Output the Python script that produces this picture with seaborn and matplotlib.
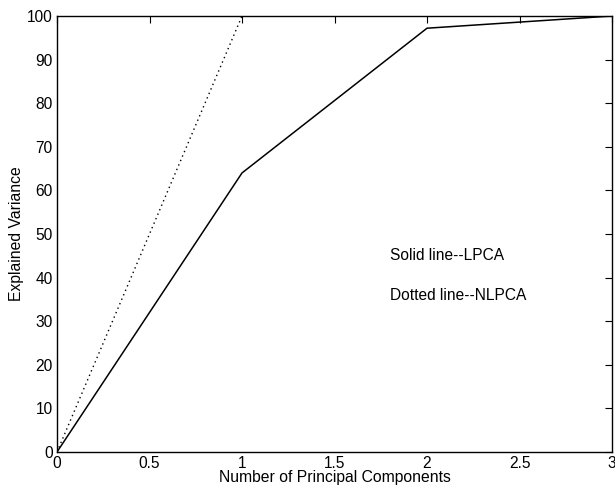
import matplotlib
matplotlib.use("Agg")
import matplotlib.pyplot as plt
import seaborn as sns
import pandas as pd

# Cumulative explained variance per number of components
components = [0, 1, 2, 3]
lpca_variance = [0, 64, 97.2, 100]
nlpca_variance = [0, 100, 100, 100]

x_ticks = [0, 0.5, 1, 1.5, 2, 2.5, 3]
y_ticks = [0, 10, 20, 30, 40, 50, 60, 70, 80, 90, 100]

sns.set_theme(style="white")
plt.rcParams["font.family"] = ["Liberation Sans", "DejaVu Sans"]
plt.rcParams["text.color"] = "black"

df = pd.DataFrame({
    "Number of Principal Components": components * 2,
    "Explained Variance": lpca_variance + nlpca_variance,
    "method": ["LPCA"] * 4 + ["NLPCA"] * 4,
})

fig = plt.figure(figsize=(6.15, 4.87), dpi=100)
ax = fig.add_axes([57 / 615, 35 / 487, 555 / 615, 436 / 487])

sns.lineplot(data=df[df.method == "LPCA"], x="Number of Principal Components",
             y="Explained Variance", color="black", lw=1.1, ax=ax)
sns.lineplot(data=df[df.method == "NLPCA"], x="Number of Principal Components",
             y="Explained Variance", color="black", lw=1.0, ax=ax,
             linestyle=(0, (1, 2.5)))

ax.set_xlim(0, 3)
ax.set_ylim(0, 100)
ax.set_xticks(x_ticks)
ax.set_xticklabels(["0", "0.5", "1", "1.5", "2", "2.5", "3"])
ax.set_yticks(y_ticks)
ax.tick_params(direction="in", length=5, width=0.8, colors="black",
               labelsize=11.2, top=True, right=True, pad=3)
for s in ax.spines.values():
    s.set_color("black")
    s.set_linewidth(1.0)

ax.set_xlabel("Number of Principal Components", fontsize=11.3, labelpad=-0.5, color="black")
ax.set_ylabel("Explained Variance", fontsize=11.3, labelpad=2, color="black")

ax.text(1.8, 45, "Solid line--LPCA", fontsize=11.2, va="center", ha="left", color="black")
ax.text(1.8, 35.8, "Dotted line--NLPCA", fontsize=11.2, va="center", ha="left", color="black")

fig.savefig("out.png", dpi=100)
